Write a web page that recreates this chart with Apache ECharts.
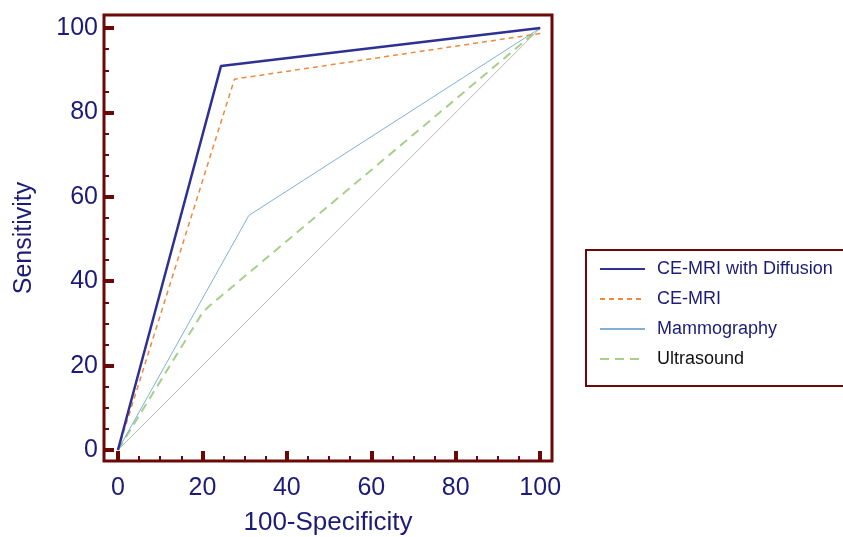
<!DOCTYPE html>
<html>
<head>
<meta charset="utf-8">
<script src="https://cdn.jsdelivr.net/npm/echarts@6/dist/echarts.min.js"></script>
<style>
  html, body { margin: 0; padding: 0; background: #fff; }
  #chart { width: 843px; height: 537px; }
</style>
</head>
<body>
<div id="chart"></div>
<script>
// ROC points as [100-specificity, sensitivity]
const diffusionPts = [[0, 0], [24.4, 91], [100, 100]];
const ceMriPts = [[0, 0], [27.6, 87.9], [100, 98.7]];
const mammoPts = [[0, 0], [31, 55.6], [100, 100]];
const ultrasoundPts = [[0, 0], [20, 32.5], [21.5, 34], [100, 100]];
const chancePts = [[0, 0], [100, 100]];

const seriesNames = ["CE-MRI with Diffusion", "CE-MRI", "Mammography", "Ultrasound"];
const majorTicks = [0, 20, 40, 60, 80, 100];
const minorTicks = [5, 10, 15, 25, 30, 35, 45, 50, 55, 65, 70, 75, 85, 90, 95];

const frameColor = "#6b0808";
const labelColor = "#1c1c78";
const font = "Liberation Sans";

const chart = echarts.init(document.getElementById("chart"));

const makeAxis = (min, max, extra) => Object.assign({
  type: "value",
  min: min,
  max: max,
  axisLine: { show: false, onZero: false },
  splitLine: { show: false },
}, extra);

chart.setOption({
  animation: false,
  textStyle: { fontFamily: font },
  grid: {
    left: 104,
    right: 291,
    top: 15,
    bottom: 76,
    outerBoundsMode: "none",
    containLabel: false,
    show: true,
    borderColor: frameColor,
    borderWidth: 3,
  },
  xAxis: [
    makeAxis(-3.3, 102.8, {
      position: "bottom",
      name: "100-Specificity",
      nameLocation: "middle",
      nameGap: 49,
      nameTextStyle: { color: labelColor, fontSize: 26, fontFamily: font },
      axisTick: { inside: true, length: 10, lineStyle: { color: frameColor, width: 4 }, customValues: majorTicks },
      axisLabel: { color: labelColor, fontSize: 25, margin: 15, fontFamily: font, customValues: majorTicks },
    }),
    makeAxis(-3.3, 102.8, {
      position: "bottom",
      axisTick: { inside: true, length: 5, lineStyle: { color: frameColor, width: 2 }, customValues: minorTicks },
      axisLabel: { show: false },
    }),
  ],
  yAxis: [
    makeAxis(-2.6, 103.1, {
      position: "left",
      name: "Sensitivity",
      nameLocation: "middle",
      nameGap: 67,
      nameTextStyle: { color: labelColor, fontSize: 25, fontFamily: font },
      axisTick: { inside: true, length: 10, lineStyle: { color: frameColor, width: 4 }, customValues: majorTicks },
      axisLabel: { color: labelColor, fontSize: 25, margin: 6, fontFamily: font, customValues: majorTicks },
    }),
    makeAxis(-2.6, 103.1, {
      position: "left",
      axisTick: { inside: true, length: 5, lineStyle: { color: frameColor, width: 2 }, customValues: minorTicks },
      axisLabel: { show: false },
    }),
  ],
  legend: {
    orient: "vertical",
    left: 586,
    top: 250,
    padding: [10, 40, 18, 13],
    itemWidth: 45,
    itemHeight: 14,
    itemGap: 12,
    borderColor: frameColor,
    borderWidth: 2,
    itemStyle: { opacity: 0, color: "transparent", borderWidth: 0 },
    textStyle: { fontSize: 18, color: labelColor, fontFamily: font, padding: [0, 0, 0, 7] },
    data: [
      { name: seriesNames[0] },
      { name: seriesNames[1] },
      { name: seriesNames[2] },
      { name: seriesNames[3], textStyle: { color: "#111111" } },
    ],
  },
  series: [
    {
      name: "chance",
      type: "line",
      data: chancePts,
      symbol: "none",
      silent: true,
      lineStyle: { color: "#b8b8b8", width: 1 },
      z: 1,
    },
    {
      name: seriesNames[3],
      type: "line",
      data: ultrasoundPts,
      symbol: "none",
      itemStyle: { color: "#a6cf8a" },
      lineStyle: { color: "#a6cf8a", width: 2, type: [9, 6] },
      z: 2,
    },
    {
      name: seriesNames[2],
      type: "line",
      data: mammoPts,
      symbol: "none",
      itemStyle: { color: "#7fb0d8" },
      lineStyle: { color: "#7fb0d8", width: 1 },
      z: 3,
    },
    {
      name: seriesNames[1],
      type: "line",
      data: ceMriPts,
      symbol: "none",
      itemStyle: { color: "#ee8a3e" },
      lineStyle: { color: "#ee8a3e", width: 1.5, type: [5, 4] },
      z: 4,
    },
    {
      name: seriesNames[0],
      type: "line",
      data: diffusionPts,
      symbol: "none",
      itemStyle: { color: "#2e3192" },
      lineStyle: { color: "#2e3192", width: 2.5 },
      z: 5,
    },
  ],
});
</script>
</body>
</html>
